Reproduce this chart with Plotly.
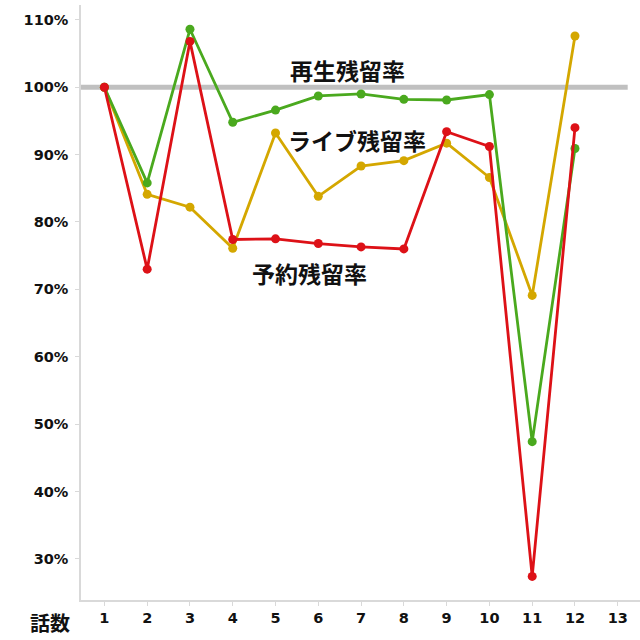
import plotly.graph_objects as go

episodes = list(range(1, 13))
x_ticks = list(range(1, 14))
y_ticks = [30, 40, 50, 60, 70, 80, 90, 100, 110]

play_retention = [100, 85.8, 108.6, 94.8, 96.6, 98.7, 99.0, 98.2, 98.1, 98.9, 47.4, 90.9]
live_retention = [100, 84.1, 82.2, 76.1, 93.2, 83.8, 88.3, 89.1, 91.7, 86.6, 69.1, 107.6]
reserve_retention = [100, 73.0, 106.8, 77.4, 77.5, 76.8, 76.3, 76.0, 93.4, 91.2, 27.4, 94.0]
reference_level = 100

labels = {"play": "再生残留率", "live": "ライブ残留率", "reserve": "予約残留率"}
x_title = "話数"

GREEN = "#4aa91e"
GOLD = "#d4a700"
RED = "#dd1117"
JP_FONT = "Noto Sans CJK JP"
TICK_FONT = "DejaVu Sans"

fig = go.Figure()

for ys, col in [(live_retention, GOLD), (play_retention, GREEN), (reserve_retention, RED)]:
    fig.add_trace(go.Scatter(
        x=episodes, y=ys, mode="lines+markers",
        line=dict(color=col, width=2.8),
        marker=dict(color=col, size=9),
        showlegend=False, hoverinfo="skip", cliponaxis=False,
    ))

fig.add_shape(type="line", xref="paper", yref="y", x0=0, x1=0.978,
              y0=reference_level, y1=reference_level,
              line=dict(color="#c0c0c0", width=5), layer="below")

jp = dict(family=JP_FONT, size=23, color="#111111")
fig.add_annotation(x=6.68, y=102.6, text=f"<b>{labels['play']}</b>", showarrow=False,
                   font=jp, xref="x", yref="y")
fig.add_annotation(x=6.90, y=92.2, text=f"<b>{labels['live']}</b>", showarrow=False,
                   font=jp, xref="x", yref="y")
fig.add_annotation(x=5.80, y=72.5, text=f"<b>{labels['reserve']}</b>", showarrow=False,
                   font=jp, xref="x", yref="y")
fig.add_annotation(x=-0.055, y=-0.037, xref="paper", yref="paper", text=f"<b>{x_title}</b>",
                   showarrow=False, font=dict(family=JP_FONT, size=20, color="#111111"),
                   xanchor="center", yanchor="middle")

fig.update_layout(
    width=640, height=640,
    margin=dict(l=81, r=0, t=5, b=40),
    paper_bgcolor="white", plot_bgcolor="white",
    font=dict(family=TICK_FONT, size=14.5, color="#111111"),
)
fig.update_xaxes(
    range=[0.453, 13.52], tickmode="array", tickvals=x_ticks,
    ticktext=[f"<b>{v}</b>" for v in x_ticks],
    showgrid=False, zeroline=False, showline=True, linecolor="#d9d9d9", linewidth=1.5,
    ticks="outside", ticklen=4, tickcolor="#d9d9d9", fixedrange=True,
)
fig.update_yaxes(
    range=[23.9, 112.2], tickmode="array", tickvals=y_ticks,
    ticktext=[f"<b>{v}%</b>" for v in y_ticks],
    showgrid=False, zeroline=False, showline=True, linecolor="#d9d9d9", linewidth=1.5,
    ticks="outside", ticklen=4, tickcolor="#d9d9d9", ticklabelstandoff=4, fixedrange=True,
)

fig.write_html("out.html")
